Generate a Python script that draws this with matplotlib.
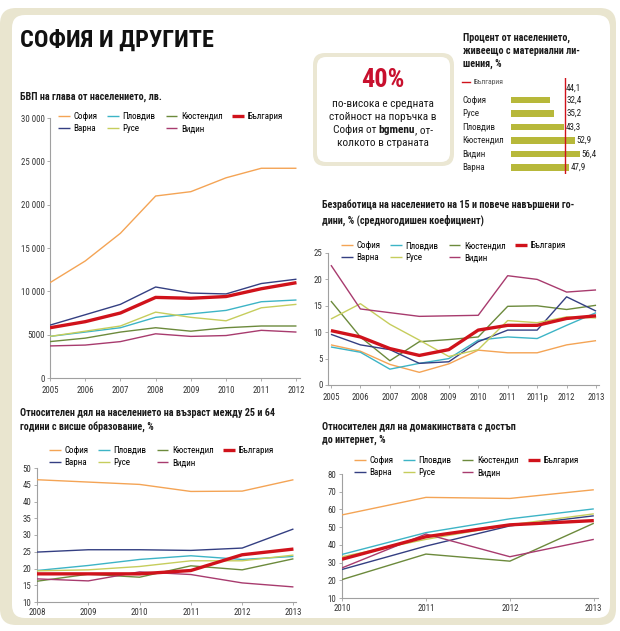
import matplotlib
matplotlib.use('Agg')
import matplotlib.pyplot as plt
import matplotlib.font_manager as fm
from matplotlib.patches import FancyBboxPatch

W, H = 620, 631

# pick a narrow family if there is one
names = {f.name for f in fm.fontManager.ttflist}
cands = ['Roboto Condensed', 'Liberation Sans Narrow', 'Open Sans Condensed',
         'Noto Sans Condensed', 'Roboto']
fam = [n for n in cands if n in names][:1]
plt.rcParams['font.family'] = fam + ['DejaVu Sans']

# ---------------- data ----------------
cities = ['София', 'Пловдив', 'Кюстендил', 'България', 'Варна', 'Русе', 'Видин']
colors = {'София': '#f4a455', 'Пловдив': '#3db4c6', 'Кюстендил': '#6c8a3c',
          'България': '#d0121b', 'Варна': '#343f82', 'Русе': '#c6cd5c',
          'Видин': '#a83b6e'}
legend_order = ['София', 'Варна', 'Пловдив', 'Русе', 'Кюстендил', 'Видин', 'България']

# БВП на глава
gdp_years = [2005, 2006, 2007, 2008, 2009, 2010, 2011, 2012]
gdp_sofia = [11000, 13500, 16700, 21000, 21500, 23100, 24200, 24200]
gdp_plovdiv = [4800, 5300, 5800, 7000, 7400, 7800, 8800, 9000]
gdp_kyust = [4200, 4600, 5300, 5800, 5400, 5800, 6000, 6000]
gdp_bg = [5800, 6500, 7500, 9300, 9200, 9400, 10300, 11000]
gdp_varna = [6100, 7300, 8500, 10500, 9800, 9700, 10900, 11400]
gdp_ruse = [4800, 5400, 6000, 7600, 7000, 6600, 8100, 8500]
gdp_vidin = [3700, 3800, 4200, 5100, 4800, 4900, 5500, 5300]
gdp_yticks = [0, 5000, 10000, 15000, 20000, 25000, 30000]
gdp_ylabels = ['0', '5000', '10 000', '15 000', '20 000', '25 000', '30 000']

# Безработица
un_labels = ['2005', '2006', '2007', '2008', '2009', '2010', '2011', '2011р', '2012', '2013']
un_sofia = [7.6, 6.4, 3.9, 2.4, 4.0, 6.6, 6.1, 6.1, 7.6, 8.4]
un_plovdiv = [7.2, 6.2, 3.0, 4.1, 5.0, 8.5, 9.1, 8.8, 11.3, 13.7]
un_kyust = [15.9, 9.1, 4.6, 8.2, 8.6, 9.1, 14.9, 15.0, 14.3, 15.1]
un_bg = [10.3, 9.1, 6.9, 5.6, 6.7, 10.4, 11.3, 11.3, 12.6, 13.1]
un_varna = [9.6, 7.6, 6.7, 4.1, 4.4, 8.2, 10.4, 10.4, 16.7, 14.0]
un_ruse = [12.5, 15.4, 11.5, 8.5, 5.4, 6.7, 12.2, 11.8, 12.9, 12.7]
un_vidin = [22.7, 14.4, 13.7, 13.0, 13.1, 13.2, 20.7, 20.0, 17.6, 18.0]

# Висше образование
ed_years = [2008, 2009, 2010, 2011, 2012, 2013]
ed_sofia = [46.5, 45.8, 45.1, 43.0, 43.1, 46.5]
ed_plovdiv = [19.4, 20.9, 22.7, 23.8, 22.7, 23.6]
ed_kyust = [16.2, 18.3, 17.4, 20.8, 19.6, 22.9]
ed_bg = [18.4, 18.4, 18.4, 19.4, 24.1, 25.8]
ed_varna = [24.9, 25.6, 25.6, 25.4, 26.1, 31.8]
ed_ruse = [19.3, 19.6, 20.6, 22.3, 22.3, 24.0]
ed_vidin = [16.9, 16.3, 19.0, 18.2, 15.7, 14.5]

# Интернет
in_years = [2010, 2011, 2012, 2013]
in_sofia = [56.9, 66.8, 66.2, 71.1]
in_plovdiv = [34.6, 46.9, 54.7, 60.3]
in_kyust = [20.4, 34.8, 30.8, 52.2]
in_bg = [31.9, 44.6, 51.3, 53.7]
in_varna = [26.1, 39.3, 50.7, 56.4]
in_ruse = [33.3, 43.1, 51.3, 57.5]
in_vidin = [27.0, 46.1, 33.3, 43.1]

# Материални лишения
dep_regions = ['София', 'Русе', 'Пловдив', 'Кюстендил', 'Видин', 'Варна']
dep_values = [32.4, 35.2, 43.3, 52.9, 56.4, 47.9]
dep_bg = 44.1


def rect(x0, y0, x1, y1):
    return [x0 / W, 1 - y1 / H, (x1 - x0) / W, (y1 - y0) / H]


fig = plt.figure(figsize=(6.2, 6.31), dpi=100)
fig.patch.set_facecolor('white')

# background frame
bg = fig.add_axes([0, 0, 1, 1], zorder=-5)
bg.set_xlim(0, W)
bg.set_ylim(H, 0)
bg.axis('off')
bg.add_patch(FancyBboxPatch((0, 8), 616, 617, boxstyle='round,pad=0,rounding_size=16',
                            fc='#e9e5cf', ec='none'))
bg.add_patch(FancyBboxPatch((12, 15), 598, 603, boxstyle='round,pad=0,rounding_size=13',
                            fc='white', ec='none'))
bg.add_patch(FancyBboxPatch((313, 53), 141, 113, boxstyle='round,pad=0,rounding_size=12',
                            fc='#ebe7d3', ec='none'))
bg.add_patch(FancyBboxPatch((317, 57), 133, 105, boxstyle='round,pad=0,rounding_size=9',
                            fc='white', ec='none'))


def T(x, y, s, **kw):
    kw.setdefault('va', 'center')
    kw.setdefault('color', '#1a1a1a')
    return fig.text(x / W, 1 - y / H, s, **kw)


def style(ax):
    for s in ['top', 'right']:
        ax.spines[s].set_visible(False)
    for s in ['left', 'bottom']:
        ax.spines[s].set_color('#a0a0a0')
        ax.spines[s].set_linewidth(0.8)
    ax.tick_params(labelsize=6.3, colors='#333333', length=2, width=0.6, pad=2)
    ax.tick_params(axis='both', color='#a0a0a0')
    ax.patch.set_alpha(0)


def line_chart(box, x, data, leg_xy):
    ax = fig.add_axes(rect(*box))
    style(ax)
    for name in cities:
        bgline = name == 'България'
        ax.plot(x, data[name], color=colors[name], lw=2.4 if bgline else 1.0,
                zorder=4 if bgline else 3, label=name, solid_capstyle='butt')
    hs, ls = ax.get_legend_handles_labels()
    d = dict(zip(ls, hs))
    fig.legend([d[n] for n in legend_order], legend_order, ncol=4, loc='upper left',
               bbox_to_anchor=(leg_xy[0] / W, 1 - leg_xy[1] / H), frameon=False,
               fontsize=6.5, handlelength=1.3, handletextpad=0.4, columnspacing=1.1,
               borderpad=0, borderaxespad=0, labelspacing=0.35)
    return ax


T(20, 40, 'СОФИЯ И ДРУГИТЕ', fontsize=17.5, fontweight='bold', color='#111111')

# chart 1
T(20, 97, 'БВП на глава от населението, лв.', fontsize=7.3, fontweight='bold')
ax1 = line_chart((50, 118, 300, 378), gdp_years,
                 {'София': gdp_sofia, 'Пловдив': gdp_plovdiv, 'Кюстендил': gdp_kyust,
                  'България': gdp_bg, 'Варна': gdp_varna, 'Русе': gdp_ruse,
                  'Видин': gdp_vidin}, (58, 112))
ax1.set_xlim(2005, 2012.1)
ax1.set_ylim(0, 30000)
ax1.set_xticks(gdp_years)
ax1.set_yticks(gdp_yticks)
ax1.set_yticklabels(gdp_ylabels)
ax1.tick_params(axis='x', pad=4)

# chart 2
T(322, 205, 'Безработица на населението на 15 и повече навършени го-', fontsize=7.3,
  fontweight='bold')
T(322, 220, 'дини, % (средногодишен коефициент)', fontsize=7.3, fontweight='bold')
ux = list(range(len(un_labels)))
ax2 = line_chart((328, 253, 599, 385), ux,
                 {'София': un_sofia, 'Пловдив': un_plovdiv, 'Кюстендил': un_kyust,
                  'България': un_bg, 'Варна': un_varna, 'Русе': un_ruse,
                  'Видин': un_vidin}, (341, 241))
ax2.set_xlim(-0.1, 9.1)
ax2.set_ylim(0, 25)
ax2.set_xticks(ux)
ax2.set_xticklabels(un_labels)
ax2.set_yticks([0, 5, 10, 15, 20, 25])
ax2.tick_params(axis='x', pad=4)

# chart 3
T(20, 413, 'Относителен дял на населението на възраст между 25 и 64', fontsize=7.3,
  fontweight='bold')
T(20, 427, 'години с висше образование, %', fontsize=7.3, fontweight='bold')
ax3 = line_chart((37, 468, 296, 602), ed_years,
                 {'София': ed_sofia, 'Пловдив': ed_plovdiv, 'Кюстендил': ed_kyust,
                  'България': ed_bg, 'Варна': ed_varna, 'Русе': ed_ruse,
                  'Видин': ed_vidin}, (49, 446))
ax3.set_xlim(2008, 2013.05)
ax3.set_ylim(10, 50)
ax3.set_xticks(ed_years)
ax3.set_yticks(range(10, 51, 5))

# chart 4
T(322, 426, 'Относителен дял на домакинствата с достъп', fontsize=7.3, fontweight='bold')
T(322, 440, 'до интернет, %', fontsize=7.3, fontweight='bold')
ax4 = line_chart((342, 474, 598, 598), in_years,
                 {'София': in_sofia, 'Пловдив': in_plovdiv, 'Кюстендил': in_kyust,
                  'България': in_bg, 'Варна': in_varna, 'Русе': in_ruse,
                  'Видин': in_vidin}, (354, 456))
ax4.set_xlim(2010, 2013.05)
ax4.set_ylim(10, 80)
ax4.set_xticks(in_years)
ax4.set_yticks(range(10, 81, 10))

# bar chart
for i, s in enumerate(['Процент от населението,', 'живеещо с материални ли-', 'шения, %']):
    T(463, 38 + 13 * i, s, fontsize=7.3, fontweight='bold')
axb = fig.add_axes(rect(511, 78, 584, 174))
axb.axis('off')
pos = list(range(len(dep_regions)))
axb.barh(pos, dep_values, height=0.48, color='#b7b83a', zorder=2)
axb.set_xlim(0, 60)
axb.set_ylim(5.5, -1.65)
axb.axvline(dep_bg, color='#d0121b', lw=1.0, zorder=3, label='България')
for p, name, v in zip(pos, dep_regions, dep_values):
    axb.text(-40, p, name, fontsize=6.5, va='center', ha='left', color='#222222')
    axb.text(max(v, dep_bg) + 1.2, p, f'{v:.1f}'.replace('.', ','), fontsize=6.5,
             va='center', ha='left', color='#222222')
axb.text(dep_bg + 1.2, -0.9, f'{dep_bg:.1f}'.replace('.', ','), fontsize=6.5,
         va='center', ha='left', color='#222222')
axb.legend(loc='center left', bbox_to_anchor=(-40 / 60, 1 - 0.3 / 7.15), frameon=False,
           fontsize=5.5, handlelength=1.0, handletextpad=0.5, borderpad=0,
           borderaxespad=0, labelcolor='#555555')

# 40% box
T(383, 80, '40%', fontsize=19, fontweight='bold', color='#c8102e', ha='center')
T(383, 104, 'по-висока е средната', fontsize=8.2, ha='center')
T(383, 117, 'стойност на поръчка в', fontsize=8.2, ha='center')
r = fig.canvas.get_renderer()
parts = [('София от ', 'normal'), ('bgmenu', 'bold'), (', от-', 'normal')]
texts = [T(0, 130, s, fontsize=8.2, fontweight=w, ha='left') for s, w in parts]
widths = [t.get_window_extent(r).width for t in texts]
x = 383 - sum(widths) / 2
for t, w in zip(texts, widths):
    t.set_x(x / W)
    x += w
T(383, 143, 'колкото в страната', fontsize=8.2, ha='center')

fig.savefig('out.png', dpi=100, facecolor='white')
